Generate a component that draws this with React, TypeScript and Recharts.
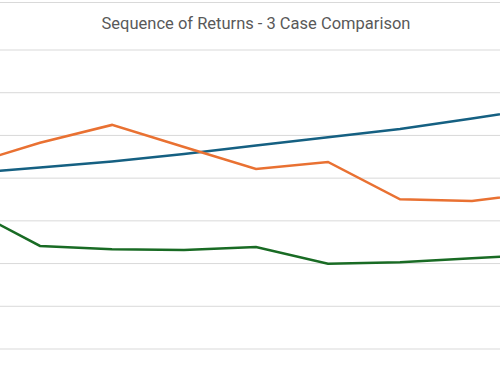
import { LineChart, Line, XAxis, YAxis, CartesianGrid } from 'recharts'

// periods (years); the view shows a window from ~0.44 to ~7.39
const periods = [0, 1, 2, 3, 4, 5, 6, 7, 8]
// portfolio value, $K
const caseSteady = [2055, 2125, 2195, 2283, 2383, 2479, 2576, 2699, 2827]
const caseEarlyGains = [2157, 2415, 2623, 2365, 2107, 2189, 1753, 1733, 1838]
const caseEarlyLosses = [1649, 1206, 1167, 1159, 1194, 999, 1015, 1062, 1110]
const yTicks = [0, 500, 1000, 1500, 2000, 2500, 3000, 3500]

const data = periods.map((p, i) => ({
  period: p,
  steady: caseSteady[i],
  gains: caseEarlyGains[i],
  losses: caseEarlyLosses[i],
}))

export default function App() {
  return (
    <div style={{ position: 'absolute', left: 0, top: 0, width: 500, height: 380, overflow: 'hidden', background: '#fff' }}>
      <div style={{ position: 'absolute', left: 0, top: 2, width: 500, height: 1, background: '#d9d9d9' }} />
      <div style={{ position: 'absolute', left: 6, top: 14, width: 500, textAlign: 'center', fontFamily: 'Roboto, sans-serif', fontSize: 16.5, color: '#595959' }}>
        Sequence of Returns - 3 Case Comparison
      </div>
      <LineChart width={500} height={380} data={data} margin={{ top: 50, right: 0, bottom: 31, left: 0 }}>
        <CartesianGrid vertical={false} stroke="#d9d9d9" strokeWidth={1} />
        <XAxis dataKey="period" type="number" domain={[32 / 72, 532 / 72]} allowDataOverflow hide />
        <YAxis type="number" domain={[0, 3500]} ticks={yTicks} hide />
        <Line dataKey="steady" stroke="#156082" strokeWidth={2.5} dot={false} isAnimationActive={false} />
        <Line dataKey="gains" stroke="#E97132" strokeWidth={2.5} dot={false} isAnimationActive={false} />
        <Line dataKey="losses" stroke="#196B24" strokeWidth={2.5} dot={false} isAnimationActive={false} />
      </LineChart>
    </div>
  )
}
